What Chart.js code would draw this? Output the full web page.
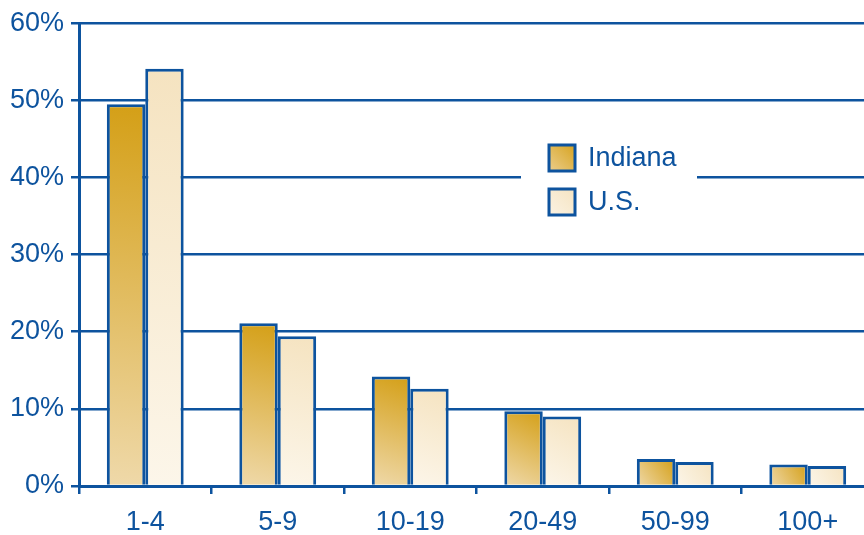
<!DOCTYPE html>
<html>
<head>
<meta charset="utf-8">
<script src="https://cdn.jsdelivr.net/npm/chart.js@4"></script>
<style>
  html, body { margin: 0; padding: 0; background: #fff; overflow: hidden; }
  #wrap { width: 874px; height: 535px; }
</style>
</head>
<body>
<div id="wrap"><canvas id="myChart" width="874" height="535"></canvas></div>
<script>
var categories = ['1-4', '5-9', '10-19', '20-49', '50-99', '100+'];
var indiana = [49.5, 21.1, 14.2, 9.7, 3.5, 2.8];
var us = [54.1, 19.4, 12.6, 9.0, 3.1, 2.6];
var yTicks = [0, 10, 20, 30, 40, 50, 60];

var blue = '#0d539e';
var font = '"Liberation Sans", Arial, Helvetica, sans-serif';
var catPct = 0.58;

// diagonal gradient per bar, light at bottom-left, dark at top-right
function barFill(light, dark) {
    return function (c) {
        var chart = c.chart;
        var xs = chart.scales.x, ys = chart.scales.y;
        if (!xs || !ys || c.dataIndex === undefined) return dark;
        var cx = xs.getPixelForValue(c.dataIndex);
        var w = (xs.width / categories.length) * catPct / 2;
        var x0 = c.datasetIndex === 0 ? cx - w : cx;
        var x1 = x0 + w;
        var y0 = ys.getPixelForValue(0);
        var y1 = ys.getPixelForValue(c.raw);
        if (![x0, x1, y0, y1].every(isFinite) || (x0 === x1 && y0 === y1)) return dark;
        var g = chart.ctx.createLinearGradient(x0, y0, x1, y1);
        g.addColorStop(0, light);
        g.addColorStop(1, dark);
        return g;
    };
}

var legendBox = {
    id: 'legendBox',
    afterDatasetsDraw: function (chart) {
        var ctx = chart.ctx;
        ctx.save();
        ctx.fillStyle = '#fff';
        ctx.fillRect(521, 132, 176, 92);
        var rows = [
            { label: chart.data.datasets[0].label, light: '#eccf90', dark: '#d6a21c', y: 144 },
            { label: chart.data.datasets[1].label, light: '#fbf3e4', dark: '#f5e3c0', y: 188 }
        ];
        rows.forEach(function (r) {
            var g = ctx.createLinearGradient(548, r.y + 28, 576, r.y);
            g.addColorStop(0, r.light);
            g.addColorStop(1, r.dark);
            ctx.fillStyle = g;
            ctx.fillRect(549, r.y + 1, 26, 26);
            ctx.lineWidth = 3;
            ctx.strokeStyle = blue;
            ctx.strokeRect(549, r.y + 1, 26, 26);
            ctx.fillStyle = blue;
            ctx.font = '27px ' + font;
            ctx.textBaseline = 'middle';
            ctx.textAlign = 'left';
            ctx.fillText(r.label, 588, r.y + 15);
        });
        ctx.restore();
    }
};

var ctx = document.getElementById('myChart').getContext('2d');
var myChart = new Chart(ctx, {
    type: 'bar',
    data: {
        labels: categories,
        datasets: [{
            label: 'Indiana',
            data: indiana,
            backgroundColor: barFill('#efd9aa', '#d49f16'),
            borderColor: blue,
            borderWidth: 3,
            categoryPercentage: catPct,
            barPercentage: 1.0
        }, {
            label: 'U.S.',
            data: us,
            backgroundColor: barFill('#fcf6ea', '#f5e3c0'),
            borderColor: blue,
            borderWidth: 3,
            categoryPercentage: catPct,
            barPercentage: 1.0
        }]
    },
    options: {
        responsive: false,
        animation: false,
        layout: { padding: { top: 22, right: 0, left: 0, bottom: 0 } },
        plugins: {
            legend: { display: false },
            tooltip: { enabled: false }
        },
        scales: {
            x: {
                afterFit: function (s) { s.height = 49; },
                grid: { drawOnChartArea: false, drawTicks: true, tickLength: 8, color: blue, lineWidth: 2.5, offset: true },
                border: { color: blue, width: 3 },
                ticks: { color: blue, font: { family: font, size: 27 }, padding: 12 }
            },
            y: {
                min: 0,
                max: 60,
                afterFit: function (s) { s.width = 79; },
                afterBuildTicks: function (s) { s.ticks = yTicks.map(function (v) { return { value: v }; }); },
                grid: { color: blue, lineWidth: 2.5, tickLength: 8 },
                border: { color: blue, width: 3 },
                ticks: {
                    color: blue,
                    font: { family: font, size: 27 },
                    padding: 7,
                    callback: function (v) { return v + '%'; }
                }
            }
        }
    },
    plugins: [legendBox]
});
</script>
</body>
</html>
